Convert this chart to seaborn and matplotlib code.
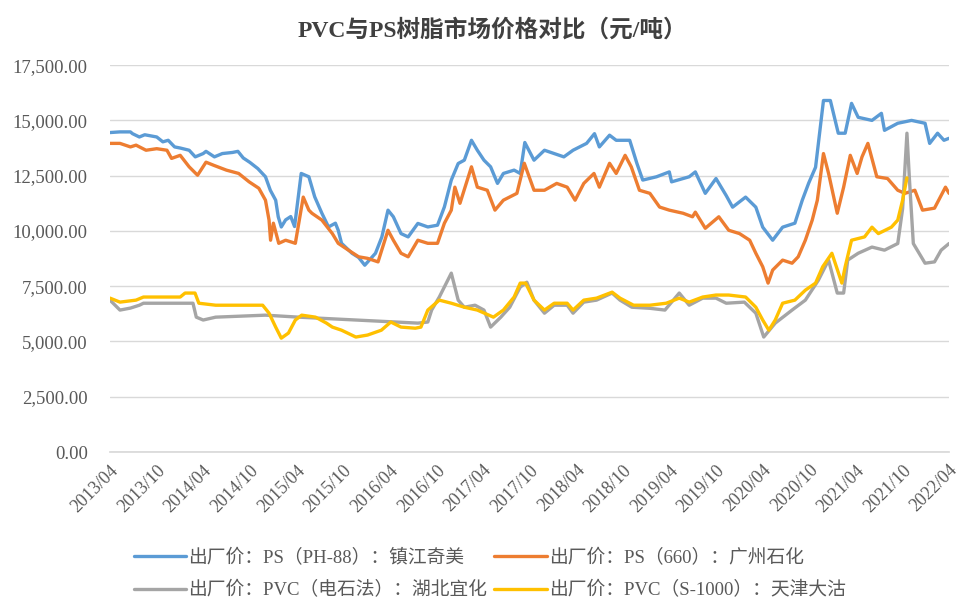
import pandas as pd
import matplotlib.pyplot as plt
import matplotlib.dates as mdates
from matplotlib.ticker import FuncFormatter
import seaborn as sns

# ---- data (yuan / ton) ----
ps88_dates = ['2013-04-01', '2013-05-10', '2013-06-20', '2013-06-28', '2013-07-25', '2013-08-15',
              '2013-10-01', '2013-10-25', '2013-11-15', '2013-12-10', '2014-01-01', '2014-02-05',
              '2014-03-01', '2014-04-01', '2014-04-12', '2014-05-15', '2014-06-15', '2014-07-25',
              '2014-08-15', '2014-09-05', '2014-10-01', '2014-11-01', '2014-12-01', '2014-12-20',
              '2015-01-10', '2015-01-20', '2015-02-01', '2015-02-18', '2015-03-10', '2015-03-25',
              '2015-04-20', '2015-05-20', '2015-06-12', '2015-07-10', '2015-08-05', '2015-09-01',
              '2015-09-12', '2015-09-25', '2015-11-05', '2015-12-01', '2015-12-25', '2016-02-05',
              '2016-03-01', '2016-03-25', '2016-04-15', '2016-05-15', '2016-06-12', '2016-07-20',
              '2016-08-28', '2016-10-05', '2016-11-01', '2016-11-28', '2016-12-25', '2017-01-18',
              '2017-02-15', '2017-03-10', '2017-04-05', '2017-05-01', '2017-05-28', '2017-06-20',
              '2017-08-01', '2017-08-25', '2017-09-12', '2017-10-18', '2017-11-28', '2018-01-05',
              '2018-02-12', '2018-03-20', '2018-05-12', '2018-06-12', '2018-07-01', '2018-08-10',
              '2018-09-05', '2018-10-28', '2018-11-25', '2018-12-18', '2019-02-10', '2019-04-01',
              '2019-04-10', '2019-06-18', '2019-07-12', '2019-08-20', '2019-10-01', '2019-11-10',
              '2019-12-05', '2020-01-25', '2020-03-05', '2020-04-01', '2020-05-10', '2020-06-18',
              '2020-08-05', '2020-09-03', '2020-09-28', '2020-10-25', '2020-11-25', '2020-12-22',
              '2021-01-22', '2021-02-18', '2021-03-15', '2021-04-10', '2021-06-03', '2021-07-10',
              '2021-07-22', '2021-09-12', '2021-11-05', '2021-12-28', '2022-01-15', '2022-02-15',
              '2022-03-12', '2022-04-01']
ps88_vals = [14450, 14480, 14480, 14400, 14250, 14350,
             14250, 14030, 14100, 13800, 13750, 13650,
             13350, 13500, 13600, 13350, 13500, 13550,
             13600, 13300, 13100, 12820, 12450, 11840,
             11390, 10640, 10180, 10500, 10650, 10200,
             12600, 12450, 11540, 10800, 10180, 10350,
             10030, 9440, 8990, 8800, 8450, 8990,
             9730, 10940, 10640, 9880, 9730, 10340,
             10180, 10260, 11090, 12300, 13050, 13200,
             14100, 13650, 13200, 12900, 12150, 12600,
             12750, 12600, 14000, 13200, 13650, 13500,
             13350, 13650, 13960, 14400, 13800, 14330,
             14100, 14100, 13060, 12300, 12450, 12670,
             12220, 12450, 12670, 11700, 12370, 11600,
             11075, 11530, 11075, 10170, 9580, 10170,
             10350, 11390, 12160, 12880, 15900, 15900,
             14420, 14420, 15770, 15140, 15000, 15320,
             14550, 14870, 15000, 14870, 13960, 14420,
             14100, 14190]

ps660_dates = ['2013-04-01', '2013-05-10', '2013-06-20', '2013-07-12', '2013-08-20', '2013-10-01',
               '2013-11-10', '2013-11-28', '2014-01-01', '2014-02-05', '2014-03-10', '2014-04-12',
               '2014-05-12', '2014-07-01', '2014-08-18', '2014-09-28', '2014-11-05', '2014-12-01',
               '2014-12-15', '2014-12-21', '2015-01-01', '2015-01-22', '2015-02-18', '2015-03-12',
               '2015-03-28', '2015-04-28', '2015-05-20', '2015-06-01', '2015-07-10', '2015-08-20',
               '2015-09-12', '2015-10-22', '2015-12-01', '2016-01-05', '2016-02-15', '2016-03-25',
               '2016-04-15', '2016-05-15', '2016-06-12', '2016-07-20', '2016-08-28', '2016-10-05',
               '2016-11-01', '2016-11-28', '2016-12-12', '2017-01-01', '2017-02-15', '2017-03-10',
               '2017-04-18', '2017-05-18', '2017-06-20', '2017-08-12', '2017-09-10', '2017-10-18',
               '2017-11-28', '2018-01-15', '2018-02-25', '2018-03-28', '2018-05-01', '2018-06-10',
               '2018-07-01', '2018-08-10', '2018-09-05', '2018-10-10', '2018-11-03', '2018-12-05',
               '2019-01-15', '2019-02-22', '2019-04-01', '2019-05-25', '2019-07-01', '2019-07-12',
               '2019-08-20', '2019-10-12', '2019-11-20', '2020-01-01', '2020-02-10', '2020-03-05',
               '2020-04-01', '2020-04-22', '2020-05-10', '2020-06-18', '2020-07-25', '2020-08-18',
               '2020-09-15', '2020-10-12', '2020-11-01', '2020-11-25', '2020-12-15', '2021-01-18',
               '2021-02-12', '2021-03-10', '2021-04-06', '2021-04-25', '2021-05-18', '2021-06-22',
               '2021-08-03', '2021-09-12', '2021-10-10', '2021-11-18', '2021-12-18', '2022-02-03',
               '2022-03-18', '2022-04-01']
ps660_vals = [13960, 13960, 13800, 13880, 13650, 13720,
              13650, 13280, 13420, 12900, 12520, 13110,
              12970, 12750, 12600, 12220, 11930, 11390,
              10490, 9580, 10350, 9440, 9580, 9500,
              9440, 11530, 10940, 10800, 10490, 9880,
              9440, 9130, 8830, 8760, 8600, 10030,
              9580, 8990, 8830, 9580, 9440, 9440,
              10350, 10940, 11980, 11250, 12900, 11980,
              11840, 10940, 11390, 11700, 13060, 11840,
              11840, 12150, 11980, 11390, 12150, 12600,
              11980, 13060, 12600, 13420, 12900, 11840,
              11700, 11080, 10940, 10800, 10640, 10850,
              10120, 10640, 10030, 9880, 9580, 8990,
              8380, 7640, 8230, 8680, 8540, 8830,
              9580, 10490, 11390, 13500, 12600, 10800,
              11980, 13420, 12600, 13350, 13960, 12450,
              12370, 11840, 11700, 11840, 10940, 11030,
              11980, 11700]

pvc_cc_dates = ['2013-04-01', '2013-05-10', '2013-06-20', '2013-07-25', '2013-08-10', '2014-02-20',
                '2014-03-05', '2014-04-01', '2014-05-20', '2014-12-01', '2015-04-10', '2016-07-20',
                '2016-08-28', '2016-09-12', '2016-10-12', '2016-11-28', '2016-12-25', '2017-01-18',
                '2017-03-01', '2017-04-05', '2017-05-01', '2017-06-10', '2017-07-15', '2017-08-25',
                '2017-09-20', '2017-10-18', '2017-11-28', '2018-01-05', '2018-02-25', '2018-03-20',
                '2018-05-01', '2018-06-20', '2018-08-20', '2018-09-20', '2018-11-05', '2019-01-15',
                '2019-03-15', '2019-05-10', '2019-06-18', '2019-08-10', '2019-10-01', '2019-11-10',
                '2020-01-20', '2020-03-05', '2020-04-05', '2020-05-20', '2020-07-25', '2020-09-15',
                '2020-11-05', '2020-12-15', '2021-01-18', '2021-02-12', '2021-02-28', '2021-04-10',
                '2021-06-03', '2021-07-22', '2021-09-12', '2021-10-01', '2021-10-18', '2021-10-28',
                '2021-11-12', '2021-12-28', '2022-02-03', '2022-03-01', '2022-04-01']
pvc_cc_vals = [6870, 6420, 6510, 6640, 6730, 6730,
               6100, 5970, 6100, 6190, 6100, 5830,
               5880, 6420, 7010, 8090, 6870, 6550,
               6640, 6420, 5650, 6100, 6550, 7460,
               7680, 6870, 6280, 6640, 6640, 6280,
               6780, 6870, 7190, 6870, 6550, 6500,
               6420, 7190, 6640, 6960, 6960, 6730,
               6780, 6280, 5200, 5830, 6420, 6870,
               7770, 8680, 7190, 7190, 8680, 8990,
               9270, 9130, 9430, 11000, 14420, 12290,
               9430, 8540, 8600, 9130, 9430]

pvc_s1000_dates = ['2013-04-01', '2013-05-10', '2013-07-12', '2013-08-10', '2014-01-01', '2014-01-20',
                   '2014-02-28', '2014-03-15', '2014-05-20', '2014-11-20', '2014-12-15', '2015-01-10',
                   '2015-02-01', '2015-03-01', '2015-03-28', '2015-04-22', '2015-06-15', '2015-07-28',
                   '2015-08-20', '2015-09-25', '2015-11-20', '2016-01-05', '2016-02-28', '2016-04-05',
                   '2016-05-15', '2016-07-10', '2016-08-01', '2016-08-28', '2016-10-12', '2016-11-28',
                   '2017-01-18', '2017-03-10', '2017-05-12', '2017-06-20', '2017-08-01', '2017-08-25',
                   '2017-09-15', '2017-10-18', '2017-11-28', '2018-01-05', '2018-02-25', '2018-03-20',
                   '2018-05-01', '2018-06-20', '2018-08-20', '2018-09-20', '2018-11-12', '2019-01-15',
                   '2019-03-20', '2019-05-10', '2019-06-18', '2019-08-10', '2019-10-01', '2019-11-20',
                   '2020-01-25', '2020-03-05', '2020-04-01', '2020-04-25', '2020-05-20', '2020-06-18',
                   '2020-08-05', '2020-09-15', '2020-10-25', '2020-11-22', '2020-12-28', '2021-02-05',
                   '2021-02-18', '2021-03-15', '2021-05-05', '2021-06-03', '2021-06-28', '2021-08-18',
                   '2021-09-12', '2021-10-01', '2021-10-18']
pvc_s1000_vals = [6960, 6780, 6870, 7010, 7010, 7190,
                  7190, 6730, 6640, 6640, 6280, 5650,
                  5150, 5380, 5970, 6190, 6100, 5830,
                  5650, 5510, 5200, 5290, 5510, 5880,
                  5650, 5600, 5650, 6420, 6870, 6730,
                  6550, 6420, 6100, 6420, 7010, 7640,
                  7640, 6870, 6420, 6730, 6730, 6420,
                  6870, 6960, 7230, 6960, 6640, 6640,
                  6730, 6960, 6780, 7010, 7100, 7100,
                  7010, 6550, 5970, 5510, 5970, 6730,
                  6870, 7320, 7640, 8380, 8990, 7640,
                  8380, 9580, 9730, 10170, 9880, 10170,
                  10490, 11390, 12400]

series_labels = ['出厂价：PS（PH-88）：镇江奇美', '出厂价：PS（660）：广州石化',
                 '出厂价：PVC（电石法）：湖北宜化', '出厂价：PVC（S-1000）：天津大沽']
series_colors = ['#5B9BD5', '#ED7D31', '#A5A5A5', '#FFC000']

sns.set_theme(style='white')
plt.rcParams['font.family'] = ['Liberation Serif', 'Noto Sans CJK SC', 'DejaVu Sans']

fig = plt.figure(figsize=(9.6, 6.03), dpi=100)
ax = fig.add_axes([0.1146, 0.2504, 0.874, 0.6416])

all_series = [(ps88_dates, ps88_vals), (ps660_dates, ps660_vals),
              (pvc_cc_dates, pvc_cc_vals), (pvc_s1000_dates, pvc_s1000_vals)]
for (d, v), lab, col in zip(all_series, series_labels, series_colors):
    df = pd.DataFrame({'date': pd.to_datetime(d), 'price': v})
    sns.lineplot(data=df, x='date', y='price', ax=ax, color=col, linewidth=2.4,
                 label=lab, legend=False, sort=True)
handles = ax.get_lines()[:4]

ax.set_ylim(0, 17500)
ax.set_yticks(range(0, 17501, 2500))
ax.yaxis.set_major_formatter(FuncFormatter(lambda v, p: f"{v:,.2f}"))
ax.set_xlim(pd.Timestamp('2013-04-01'), pd.Timestamp('2022-04-01'))
ax.set_xticks(pd.date_range('2013-04-01', '2022-04-01', freq='6MS'))
ax.xaxis.set_major_formatter(mdates.DateFormatter('%Y/%m'))
ax.grid(axis='y', color='#D9D9D9', linewidth=1)
for s in ['top', 'right', 'left']:
    ax.spines[s].set_visible(False)
ax.spines['bottom'].set_color('#D9D9D9')
ax.tick_params(axis='y', length=0, pad=16, labelsize=13.5, labelcolor='#595959')
ax.tick_params(axis='x', length=0, pad=7, labelsize=13, labelcolor='#595959')
plt.setp(ax.get_xticklabels(), rotation=45, ha='right', rotation_mode='anchor')
ax.set_xlabel('')
ax.set_ylabel('')

fig.text(0.513, 0.95, 'PVC与PS树脂市场价格对比（元/吨）', ha='center', va='center',
         fontsize=17, fontweight='bold', color='#404040')

# legend: column-major fill, so order blue, gray, orange, yellow
order = [0, 2, 1, 3]
fig.legend([handles[i] for i in order], [series_labels[i] for i in order],
           loc='center', bbox_to_anchor=(0.51, 0.048), ncol=2, frameon=False,
           fontsize=13.5, handlelength=2.8, columnspacing=0.4, handletextpad=0.1,
           labelspacing=0.75, labelcolor='#595959')

fig.savefig('out.png', dpi=100)
